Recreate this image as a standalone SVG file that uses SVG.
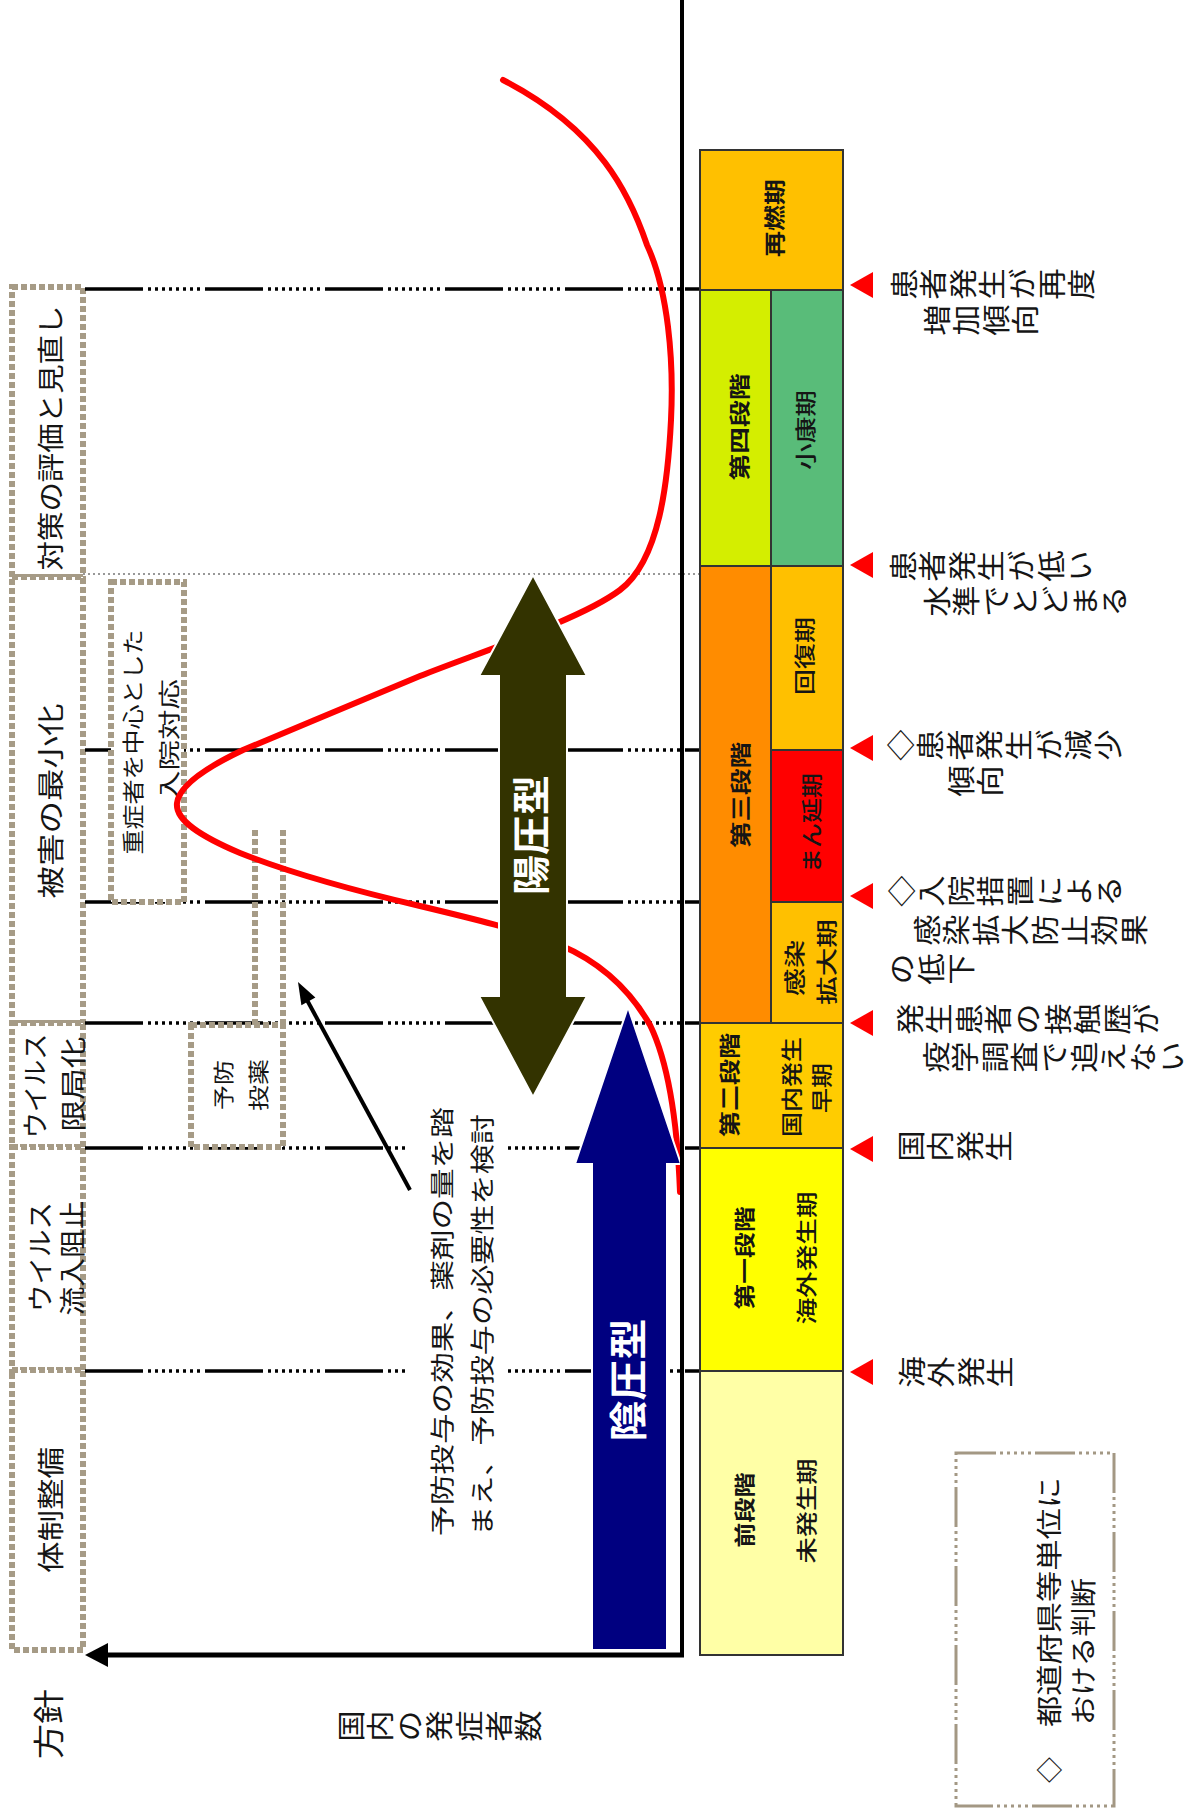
<svg xmlns="http://www.w3.org/2000/svg" width="1191" height="1809" viewBox="0 0 1191 1809">
<defs>
<style>
text { font-family: "Noto Sans CJK JP", "Noto Sans CJK SC", sans-serif; fill: #151515; }
.a { text-anchor: middle; dominant-baseline: central; }
.s { text-anchor: start; dominant-baseline: central; }
.v { font-size: 28px; letter-spacing: 1.6px; writing-mode: vertical-rl; text-anchor: start; }
.b { font-weight: 700; }
.m { font-weight: 500; }
.w { fill: #ffffff; font-weight: 700; }
.pol { fill: #ffffff; stroke: #A69B86; stroke-width: 6; stroke-dasharray: 6 3; }
.pl { fill: none; stroke: #A69B86; stroke-width: 6; stroke-dasharray: 6 3; }
.dl { stroke: #000; stroke-width: 3.5; fill: none; stroke-dasharray: 58 5 3 4 3 4 3 4 3 4 3 4 3 4 3 4 3 5; }
.gl { stroke: #777; stroke-width: 1.5; fill: none; stroke-dasharray: 2 3; }
.st { stroke: #333; stroke-width: 2; }
.tri { fill: #FF0000; }
</style>
</defs>
<rect width="1191" height="1809" fill="#ffffff"/>

<!-- policy column boxes -->
<g id="policy">
  <rect class="pol" x="12" y="287" width="71" height="290"/>
  <rect class="pol" x="12" y="577" width="71" height="446"/>
  <rect class="pol" x="12" y="1023" width="71" height="124"/>
  <rect class="pol" x="12" y="1147" width="71" height="223"/>
  <rect class="pol" x="12" y="1370" width="71" height="280"/>
</g>

<!-- connectors: boundary lines, arrows -->
<g id="connectors">
  <line class="dl" x1="85" y1="289" x2="700" y2="289"/>
  <line class="gl" x1="83" y1="574" x2="700" y2="574"/>
  <line class="dl" x1="85" y1="750" x2="700" y2="750"/>
  <line class="dl" x1="85" y1="902" x2="700" y2="902"/>
  <line class="dl" x1="85" y1="1023" x2="700" y2="1023"/>
  <line class="dl" x1="85" y1="1148" x2="700" y2="1148"/>
  <line class="dl" x1="85" y1="1371" x2="700" y2="1371"/>
  <line class="pl" x1="255" y1="830" x2="255" y2="1025"/>
  <line class="pl" x1="283" y1="830" x2="283" y2="1025"/>
</g>

<g id="box-juusho">
  <rect class="pol" x="111" y="582" width="73" height="320"/>
  <text class="a" font-size="22" transform="translate(131,742) rotate(-90)" textLength="225" lengthAdjust="spacingAndGlyphs">重症者を中心とした</text>
  <text class="a" font-size="22" transform="translate(167,740) rotate(-90)" textLength="122" lengthAdjust="spacingAndGlyphs">入院対応</text>
</g>

<g id="box-yobou">
  <rect class="pol" x="191" y="1025" width="92" height="122"/>
  <text class="a" font-size="21" transform="translate(222,1085) rotate(-90)" textLength="50" lengthAdjust="spacingAndGlyphs">予防</text>
  <text class="a" font-size="21" transform="translate(257,1085) rotate(-90)" textLength="52" lengthAdjust="spacingAndGlyphs">投薬</text>
</g>

<g id="note">
  <rect x="406" y="1100" width="99" height="445" fill="#ffffff"/>
  <text class="s" font-size="24" transform="translate(440,1536) rotate(-90)" textLength="429" lengthAdjust="spacingAndGlyphs">予防投与の効果、薬剤の量を踏</text>
  <text class="s" font-size="24" transform="translate(480,1536) rotate(-90)" textLength="422" lengthAdjust="spacingAndGlyphs">まえ、予防投与の必要性を検討</text>
</g>

<!-- epidemic curve -->
<path id="curve" d="M680,1192 C678,1140 672,1070 650,1025 C630,990 600,962 560,945 C520,930 470,918 420,906 C360,892 290,873 240,853 C200,836 175,820 177,803 C179,786 205,768 243,750 C300,726 370,697 420,676 C480,652 580,620 620,590 C660,560 668,480 671,420 C674,360 668,290 647,245 C630,195 600,130 503,80" fill="none" stroke="#FF0000" stroke-width="6" stroke-linecap="round"/>

<g id="arrow-yoatsu">
  <polygon points="533,575 587,676 567,676 567,996 587,996 533,1097 479,996 499,996 499,676 479,676" fill="#333300" stroke="#ffffff" stroke-width="2"/>
  <text class="a w" font-size="38" transform="translate(528,835) rotate(-90)" textLength="120" lengthAdjust="spacingAndGlyphs">陽圧型</text>
</g>

<g id="arrow-inatsu">
  <polygon points="628,1007 681,1164 667,1164 667,1650 592,1650 592,1164 575,1164" fill="#000080" stroke="#ffffff" stroke-width="2"/>
  <text class="a w" font-size="38" transform="translate(625,1380) rotate(-90)" textLength="123" lengthAdjust="spacingAndGlyphs">陰圧型</text>
</g>

<g id="pointer">
  <line x1="410" y1="1190" x2="307" y2="1000" stroke="#000" stroke-width="4"/>
  <polygon points="298,982 315.4,997.6 301.4,1005.2" fill="#000"/>
</g>

<g id="axes">
  <line x1="682" y1="0" x2="682" y2="1657" stroke="#000" stroke-width="4"/>
  <line x1="684" y1="1655" x2="100" y2="1655" stroke="#000" stroke-width="5"/>
  <polygon points="85,1655 108,1643 108,1667" fill="#000"/>
</g>

<!-- stage boxes -->
<g id="stages">
  <rect class="st" x="700" y="150" width="143" height="140" fill="#FFC000"/>
  <rect class="st" x="700" y="290" width="71" height="276" fill="#D4EE00"/>
  <rect class="st" x="771" y="290" width="72" height="276" fill="#59BC79"/>
  <rect class="st" x="700" y="566" width="71" height="457" fill="#FF8C00"/>
  <rect class="st" x="771" y="566" width="72" height="184" fill="#FFC000"/>
  <rect class="st" x="771" y="750" width="72" height="152" fill="#FF0000"/>
  <rect class="st" x="771" y="902" width="72" height="121" fill="#FFC000"/>
  <rect class="st" x="700" y="1023" width="143" height="125" fill="#FFCC00"/>
  <rect class="st" x="700" y="1148" width="143" height="223" fill="#FFFF00"/>
  <rect class="st" x="700" y="1371" width="143" height="284" fill="#FFFFA6"/>

  <text class="a b" font-size="21" transform="translate(773,218) rotate(-90)" textLength="78" lengthAdjust="spacingAndGlyphs">再燃期</text>
  <text class="a b" font-size="21" transform="translate(738,427) rotate(-90)" textLength="107" lengthAdjust="spacingAndGlyphs">第四段階</text>
  <text class="a m" font-size="21" transform="translate(804,430) rotate(-90)" textLength="80" lengthAdjust="spacingAndGlyphs">小康期</text>
  <text class="a b" font-size="21" transform="translate(739,795) rotate(-90)" textLength="106" lengthAdjust="spacingAndGlyphs">第三段階</text>
  <text class="a m" font-size="21" transform="translate(803,656) rotate(-90)" textLength="78" lengthAdjust="spacingAndGlyphs">回復期</text>
  <text class="a m" font-size="21" transform="translate(810,823) rotate(-90)" textLength="100" lengthAdjust="spacingAndGlyphs">まん延期</text>
  <text class="a m" font-size="21" transform="translate(793,968) rotate(-90)" textLength="56" lengthAdjust="spacingAndGlyphs">感染</text>
  <text class="a m" font-size="21" transform="translate(825,962) rotate(-90)" textLength="86" lengthAdjust="spacingAndGlyphs">拡大期</text>
  <text class="a b" font-size="21" transform="translate(728,1085) rotate(-90)" textLength="104" lengthAdjust="spacingAndGlyphs">第二段階</text>
  <text class="a m" font-size="21" transform="translate(790,1087) rotate(-90)" textLength="100" lengthAdjust="spacingAndGlyphs">国内発生</text>
  <text class="a m" font-size="21" transform="translate(820,1088) rotate(-90)" textLength="50" lengthAdjust="spacingAndGlyphs">早期</text>
  <text class="a b" font-size="21" transform="translate(743,1258) rotate(-90)" textLength="103" lengthAdjust="spacingAndGlyphs">第一段階</text>
  <text class="a m" font-size="21" transform="translate(805,1258) rotate(-90)" textLength="133" lengthAdjust="spacingAndGlyphs">海外発生期</text>
  <text class="a b" font-size="21" transform="translate(743,1510) rotate(-90)" textLength="75" lengthAdjust="spacingAndGlyphs">前段階</text>
  <text class="a m" font-size="21" transform="translate(805,1511) rotate(-90)" textLength="105" lengthAdjust="spacingAndGlyphs">未発生期</text>
</g>

<!-- triggers -->
<g id="triggers">
  <polygon class="tri" points="850,285 873,272 873,298"/>
  <polygon class="tri" points="850,565 873,552 873,578"/>
  <polygon class="tri" points="850,748 873,735 873,761"/>
  <polygon class="tri" points="850,896 873,883 873,909"/>
  <polygon class="tri" points="850,1023 873,1010 873,1036"/>
  <polygon class="tri" points="850,1149 873,1136 873,1162"/>
  <polygon class="tri" points="850,1372 873,1359 873,1385"/>

  <text class="v" transform="translate(890,284) scale(1,1.12) rotate(-90)">患者発生が再度</text>
  <text class="v" transform="translate(923,320) scale(1,1.12) rotate(-90)">増加傾向</text>
  <text class="v" transform="translate(889,566) scale(1,1.12) rotate(-90)">患者発生が低い</text>
  <text class="v" transform="translate(923,601) scale(1,1.12) rotate(-90)">水準でとどまる</text>
  <text class="v" transform="translate(887,745) scale(1,1.12) rotate(-90)">◇患者発生が減少</text>
  <text class="v" transform="translate(947,781) scale(1,1.12) rotate(-90)">傾向</text>
  <text class="v" transform="translate(888,891) scale(1,1.12) rotate(-90)">◇入院措置による</text>
  <text class="v" transform="translate(913,930) scale(1,1.12) rotate(-90)">感染拡大防止効果</text>
  <text class="v" transform="translate(888,969) scale(1,1.12) rotate(-90)">の低下</text>
  <text class="v" transform="translate(896,1019) scale(1,1.12) rotate(-90)">発生患者の接触歴が</text>
  <text class="v" transform="translate(922,1057) scale(1,1.12) rotate(-90)">疫学調査で追えない</text>
  <text class="v" transform="translate(897,1146) scale(1,1.12) rotate(-90)">国内発生</text>
  <text class="v" transform="translate(898,1372) scale(1,1.12) rotate(-90)">海外発生</text>
</g>

<g id="legend">
  <rect x="956" y="1453" width="158" height="353" fill="none" stroke="#A39884" stroke-width="3" stroke-dasharray="40 4 3 4 3 4 3 4 3 4 3 4"/>
  <text class="a" font-size="26" transform="translate(1047,1770) rotate(-90)">◇</text>
  <text class="s" font-size="26" transform="translate(1047,1727) rotate(-90)" textLength="250" lengthAdjust="spacingAndGlyphs">都道府県等単位に</text>
  <text class="s" font-size="26" transform="translate(1081,1725) rotate(-90)" textLength="147" lengthAdjust="spacingAndGlyphs">おける判断</text>
</g>

<!-- policy labels -->
<g id="policy-labels">
  <text class="a" font-size="27" transform="translate(49,438) rotate(-90)" textLength="265" lengthAdjust="spacingAndGlyphs">対策の評価と見直し</text>
  <text class="a" font-size="27" transform="translate(49,801) rotate(-90)" textLength="195" lengthAdjust="spacingAndGlyphs">被害の最小化</text>
  <text class="a" font-size="26" transform="translate(33,1086) rotate(-90)" textLength="105" lengthAdjust="spacingAndGlyphs">ウイルス</text>
  <text class="a" font-size="26" transform="translate(71,1084) rotate(-90)" textLength="95" lengthAdjust="spacingAndGlyphs">限局化</text>
  <text class="a" font-size="26" transform="translate(38,1257) rotate(-90)" textLength="110" lengthAdjust="spacingAndGlyphs">ウイルス</text>
  <text class="a" font-size="26" transform="translate(70,1258) rotate(-90)" textLength="115" lengthAdjust="spacingAndGlyphs">流入阻止</text>
  <text class="a" font-size="27" transform="translate(49,1510) rotate(-90)" textLength="126" lengthAdjust="spacingAndGlyphs">体制整備</text>
  <text class="a" font-size="31" transform="translate(46,1724) rotate(-90)" textLength="70" lengthAdjust="spacingAndGlyphs">方針</text>
  <text class="v" transform="translate(337,1726) scale(1,1.12) rotate(-90)">国内の発症者数</text>
</g>
</svg>
